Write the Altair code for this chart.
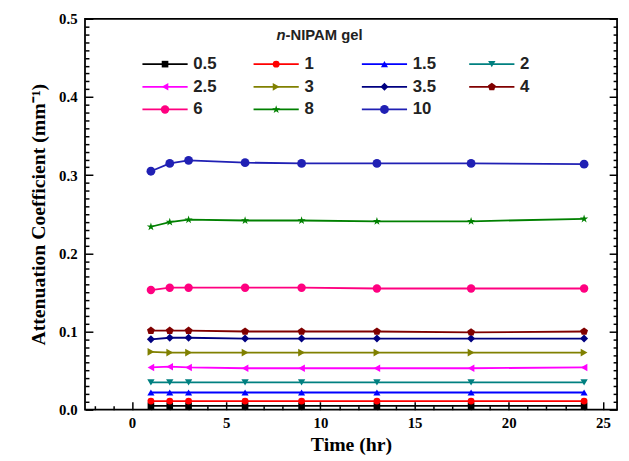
import altair as alt
import pandas as pd

# ---- data ----
times = [1, 2, 3, 6, 9, 13, 18, 24]
series_names = ["0.5", "1", "1.5", "2", "2.5", "3", "3.5", "4", "6", "8", "10"]
v_05 = [0.005, 0.005, 0.005, 0.005, 0.005, 0.005, 0.005, 0.005]
v_1 = [0.011, 0.011, 0.011, 0.011, 0.011, 0.011, 0.011, 0.011]
v_15 = [0.022, 0.022, 0.022, 0.022, 0.022, 0.022, 0.022, 0.022]
v_2 = [0.035, 0.035, 0.035, 0.035, 0.035, 0.035, 0.035, 0.035]
v_25 = [0.054, 0.055, 0.054, 0.053, 0.053, 0.053, 0.053, 0.054]
v_3 = [0.074, 0.073, 0.073, 0.073, 0.073, 0.073, 0.073, 0.073]
v_35 = [0.090, 0.092, 0.092, 0.091, 0.091, 0.091, 0.091, 0.091]
v_4 = [0.101, 0.101, 0.101, 0.100, 0.100, 0.100, 0.099, 0.100]
v_6 = [0.153, 0.156, 0.156, 0.156, 0.156, 0.155, 0.155, 0.155]
v_8 = [0.234, 0.240, 0.243, 0.242, 0.242, 0.241, 0.241, 0.244]
v_10 = [0.305, 0.315, 0.319, 0.316, 0.315, 0.315, 0.315, 0.314]
all_values = [v_05, v_1, v_15, v_2, v_25, v_3, v_35, v_4, v_6, v_8, v_10]

colors = ["#000000", "#FF0000", "#0000FF", "#008080", "#FF00FF", "#808000",
          "#000080", "#800000", "#FF0080", "#008000", "#2020B4"]
star = ("M0,-1L0.2245,-0.309L0.951,-0.309L0.3633,0.118L0.5878,0.809L0,0.382"
        "L-0.5878,0.809L-0.3633,0.118L-0.951,-0.309L-0.2245,-0.309Z")
pentagon = "M0,-1L0.951,-0.309L0.5878,0.809L-0.5878,0.809L-0.951,-0.309Z"
shapes = ["square", "circle", "triangle-up", "triangle-down", "triangle-left",
          "triangle-right", "diamond", pentagon, "circle", star, "circle"]
sizes = [45, 80, 80, 80, 80, 80, 70, 90, 90, 110, 90]

rows = []
for name, vals in zip(series_names, all_values):
    for t, v in zip(times, vals):
        rows.append({"series": name, "time": t, "value": v})
df = pd.DataFrame(rows)

XDOM = [-2.5, 25.75]
YDOM = [0.0, 0.5]
W, H = 539, 396

color_scale = alt.Scale(domain=series_names, range=colors)
shape_scale = alt.Scale(domain=series_names, range=shapes)
size_scale = alt.Scale(domain=series_names, range=sizes)

xs = alt.Scale(domain=XDOM, nice=False, zero=False)
ys = alt.Scale(domain=YDOM, nice=False, zero=False)

# ---- legend layout (4 columns x 3 rows) ----
col_x0 = [0.55, 6.45, 12.2, 17.9]
col_len = 2.4
row_y = [0.442, 0.413, 0.384]
leg = []
for i, name in enumerate(series_names):
    c, r = i % 4, i // 4
    leg.append({"series": name, "x1": col_x0[c], "x2": col_x0[c] + col_len,
                "xm": col_x0[c] + col_len / 2, "xt": col_x0[c] + col_len + 0.3,
                "y": row_y[r]})
leg_df = pd.DataFrame(leg)

serif = "Liberation Serif"
sans = "Liberation Sans"

def ax_none():
    return None

# data layers
lines = alt.Chart(df).mark_line(strokeWidth=1.8).encode(
    x=alt.X("time:Q", scale=xs, axis=alt.Axis(
        orient="bottom", values=[0, 5, 10, 15, 20, 25], ticks=False, domain=False,
        grid=False, labelFont=serif, labelFontWeight="bold", labelFontSize=15,
        labelColor="black", labelPadding=6, title="Time (hr)", titleFont=serif,
        titleFontWeight="bold", titleFontSize=20, titleColor="black", titlePadding=4)),
    y=alt.Y("value:Q", scale=ys, axis=alt.Axis(
        orient="left", values=[0, 0.1, 0.2, 0.3, 0.4, 0.5], format=".1f", ticks=False,
        domain=False, grid=False, labelFont=serif, labelFontWeight="bold",
        labelFontSize=15, labelColor="black", labelPadding=8,
        title="Attenuation Coefficient (mm\u207B\u00B9)", titleFont=serif,
        titleFontWeight="bold", titleFontSize=20, titleColor="black", titlePadding=10)),
    color=alt.Color("series:N", scale=color_scale, legend=None),
    detail="series:N",
)

points = alt.Chart(df).mark_point(filled=True, opacity=1).encode(
    x=alt.X("time:Q", scale=xs, axis=alt.Axis(
        orient="top", offset=-H, values=list(range(0, 26, 5)), labels=False,
        domain=False, grid=False, tickSize=8, tickWidth=1.5, tickColor="black", title=None)),
    y=alt.Y("value:Q", scale=ys, axis=alt.Axis(
        orient="right", offset=-W, values=[0, 0.1, 0.2, 0.3, 0.4, 0.5], labels=False,
        domain=False, grid=False, tickSize=8, tickWidth=1.5, tickColor="black", title=None)),
    color=alt.Color("series:N", scale=color_scale, legend=None),
    shape=alt.Shape("series:N", scale=shape_scale, legend=None),
    size=alt.Size("series:N", scale=size_scale, legend=None),
)

minor_x_vals = [v for v in range(-2, 26) if v % 5 != 0]
minor_y_vals = [round(i * 0.01, 2) for i in range(0, 51) if i % 10 != 0]

ghost1 = alt.Chart(df).mark_point(opacity=0).encode(
    x=alt.X("time:Q", scale=xs, axis=alt.Axis(
        orient="top", offset=-H, values=minor_x_vals, labels=False, domain=False,
        grid=False, tickSize=4, tickWidth=1.5, tickColor="black", title=None)),
    y=alt.Y("value:Q", scale=ys, axis=alt.Axis(
        orient="right", offset=-W, values=minor_y_vals, labels=False, domain=False,
        grid=False, tickSize=4, tickWidth=1.5, tickColor="black", title=None)),
)
ghost2 = alt.Chart(df).mark_point(opacity=0).encode(
    x=alt.X("time:Q", scale=xs, axis=None),
    y=alt.Y("value:Q", scale=ys, axis=alt.Axis(
        orient="left", offset=-W, values=[0, 0.1, 0.2, 0.3, 0.4, 0.5], labels=False,
        domain=False, grid=False, tickSize=8, tickWidth=1.5, tickColor="black", title=None)),
)
ghost3 = alt.Chart(df).mark_point(opacity=0).encode(
    x=alt.X("time:Q", scale=xs, axis=None),
    y=alt.Y("value:Q", scale=ys, axis=alt.Axis(
        orient="left", offset=-W, values=minor_y_vals, labels=False, domain=False,
        grid=False, tickSize=4, tickWidth=1.5, tickColor="black", title=None)),
)

# legend layers
leg_rules = alt.Chart(leg_df).mark_rule(strokeWidth=1.8).encode(
    x=alt.X("x1:Q", scale=xs, axis=None), x2="x2:Q",
    y=alt.Y("y:Q", scale=ys, axis=None),
    color=alt.Color("series:N", scale=color_scale, legend=None),
)
leg_pts = alt.Chart(leg_df).mark_point(filled=True, opacity=1).encode(
    x=alt.X("xm:Q", scale=xs, axis=None),
    y=alt.Y("y:Q", scale=ys, axis=None),
    color=alt.Color("series:N", scale=color_scale, legend=None),
    shape=alt.Shape("series:N", scale=shape_scale, legend=None),
    size=alt.Size("series:N", scale=size_scale, legend=None),
)
leg_txt = alt.Chart(leg_df).mark_text(
    align="left", baseline="middle", font=sans, fontWeight="bold", fontSize=17,
    color="#222222").encode(
    x=alt.X("xt:Q", scale=xs, axis=None),
    y=alt.Y("y:Q", scale=ys, axis=None),
    text="series:N",
)

title_df = pd.DataFrame([{"x": 8.15, "y": 0.479, "a": "n", "b": "-NIPAM gel"}])
t1 = alt.Chart(title_df).mark_text(
    align="right", baseline="middle", font=sans, fontWeight="bold", fontStyle="italic",
    fontSize=15, color="#222222").encode(
    x=alt.X("x:Q", scale=xs, axis=None), y=alt.Y("y:Q", scale=ys, axis=None), text="a:N")
t2 = alt.Chart(title_df).mark_text(
    align="left", baseline="middle", font=sans, fontWeight="bold",
    fontSize=15, color="#222222").encode(
    x=alt.X("x:Q", scale=xs, axis=None), y=alt.Y("y:Q", scale=ys, axis=None), text="b:N")

chart = alt.layer(
    lines, points, ghost1, ghost2, ghost3, leg_rules, leg_pts, leg_txt, t1, t2
).resolve_scale(
    x="shared", y="shared"
).resolve_axis(
    x="independent", y="independent"
).properties(
    width=W, height=H,
    autosize=alt.AutoSizeParams(type="none"),
    padding={"left": 78, "top": 8, "right": 4, "bottom": 45},
    background="white",
).configure_view(
    stroke="black", strokeWidth=1.8
)

chart.save("out.html", embed_options={"renderer": "svg", "actions": False})
